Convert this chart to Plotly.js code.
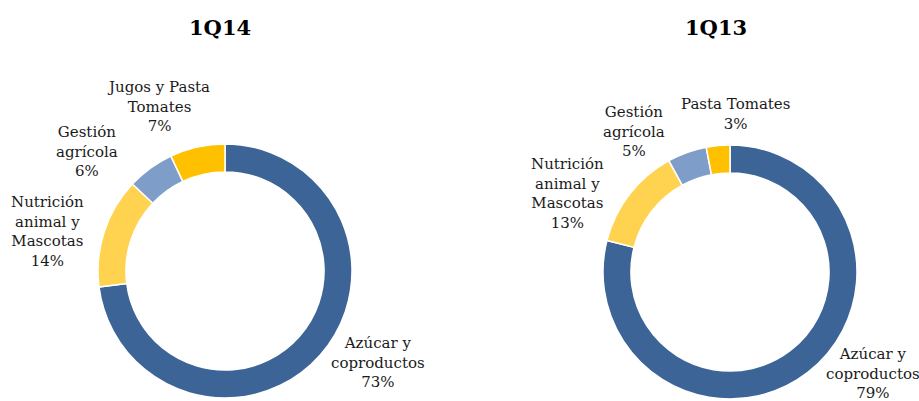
<!DOCTYPE html>
<html>
<head>
<meta charset="utf-8">
<script src="https://cdn.plot.ly/plotly-3.0.1.min.js"></script>
<style>html,body{margin:0;padding:0;background:#fff}#chart{width:919px;height:401px}</style>
</head>
<body>
<div id="chart"></div>
<script>
// Data
const categories = ["Azúcar y coproductos", "Nutrición animal y Mascotas", "Gestión agrícola", "Jugos y Pasta Tomates"];
const labels1Q14 = ["Azúcar y<br>coproductos", "Nutrición<br>animal y<br>Mascotas", "Gestión<br>agrícola", "Jugos y Pasta<br>Tomates"];
const labels1Q13 = ["Azúcar y<br>coproductos", "Nutrición<br>animal y<br>Mascotas", "Gestión<br>agrícola", "Pasta Tomates"];
const values1Q14 = [73, 14, 6, 7];
const values1Q13 = [79, 13, 5, 3];
const titles = ["1Q14", "1Q13"];

// Styles / positions
const colors = ["#3C6496", "#FFD34F", "#7F9DC9", "#FFC000"];
const W = 919, H = 401;
const font = "DejaVu Serif";
// label block centers (pixels)
const pos1Q14 = [[378, 362], [47, 231], [87, 152], [158, 107]];
const pos1Q13 = [[873, 373], [567, 193], [634, 131], [735, 114]];

function pie(values, names, x0, x1, y0, y1) {
  return {
    type: "pie", values: values, labels: names, sort: false, direction: "clockwise",
    rotation: 0, hole: 0.78, textinfo: "none", hoverinfo: "label+percent",
    marker: {colors: colors, line: {color: "#ffffff", width: 1.5}},
    domain: {x: [x0 / W, x1 / W], y: [1 - y1 / H, 1 - y0 / H]},
    showlegend: false
  };
}

const data = [
  pie(values1Q14, categories, 98, 352, 144, 398),
  pie(values1Q13, categories, 603, 857, 145, 399)
];

const annotations = [];
function addLabels(lbls, vals, pos) {
  lbls.forEach((l, i) => {
    annotations.push({
      text: l + "<br>" + vals[i] + "%", x: pos[i][0] / W, y: 1 - pos[i][1] / H,
      xref: "paper", yref: "paper", xanchor: "center", yanchor: "middle",
      showarrow: false, align: "center",
      font: {family: font, size: 15, color: "#1a1a1a"}
    });
  });
}
addLabels(labels1Q14, values1Q14, pos1Q14);
addLabels(labels1Q13, values1Q13, pos1Q13);
[[220, 28], [716, 28]].forEach((p, i) => {
  annotations.push({
    text: "<b>" + titles[i] + "</b>", x: p[0] / W, y: 1 - p[1] / H,
    xref: "paper", yref: "paper", xanchor: "center", yanchor: "middle",
    showarrow: false, font: {family: font, size: 21, color: "#000000"}
  });
});

const layout = {
  width: W, height: H, margin: {l: 0, r: 0, t: 0, b: 0},
  paper_bgcolor: "#ffffff", plot_bgcolor: "#ffffff",
  annotations: annotations, font: {family: font}
};
Plotly.newPlot("chart", data, layout, {displayModeBar: false, staticPlot: true});
</script>
</body>
</html>
